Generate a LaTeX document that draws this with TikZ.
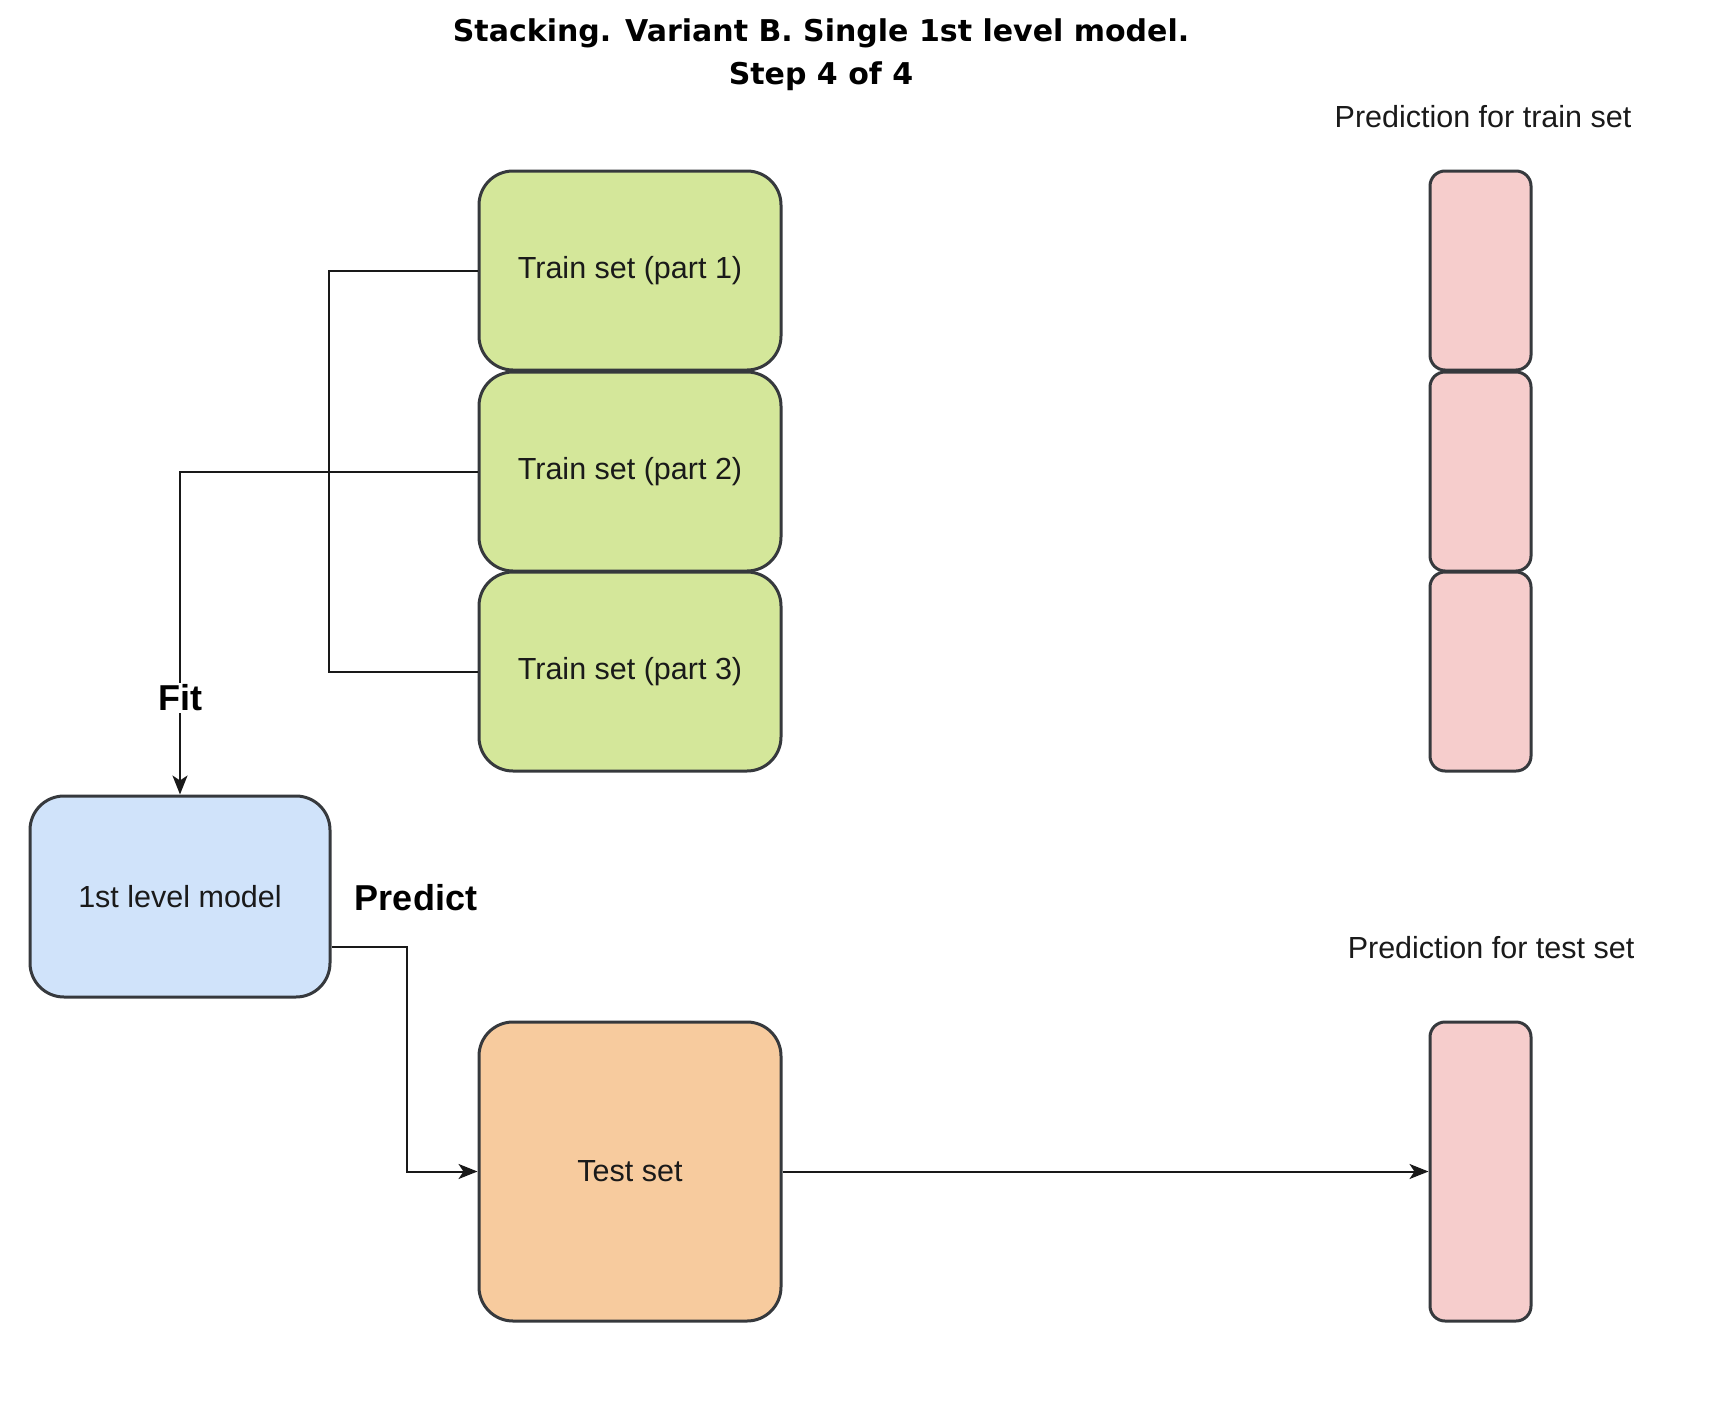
\documentclass[tikz,border=0pt]{standalone}
\usepackage{fontspec}
\setmainfont{Liberation Sans}
\newfontfamily\titlefont{DejaVu Sans}
\usetikzlibrary{arrows.meta}
\definecolor{bordergray}{HTML}{36393D}
\definecolor{greenfill}{HTML}{D4E79A}
\definecolor{pinkfill}{HTML}{F6CDCC}
\definecolor{bluefill}{HTML}{D0E3FA}
\definecolor{orangefill}{HTML}{F7CB9E}
\definecolor{txt}{HTML}{1A1A1A}
\tikzset{
  box/.style={draw=bordergray, line width=3pt, rounded corners=34pt, inner sep=0pt,
    minimum width=302pt, minimum height=199pt, text=txt,
    font=\fontsize{30.5}{36}\selectfont},
  predbox/.style={draw=bordergray, line width=3pt, rounded corners=15pt, inner sep=0pt,
    minimum width=101pt, fill=pinkfill},
  conn/.style={draw=black!90, line width=2pt},
  arr/.style={conn, -{Stealth[length=19pt, width=15pt, inset=5pt]}},
  plain/.style={text=txt, font=\fontsize{30.5}{36}\selectfont, inner sep=0pt},
  boldlab/.style={text=black, font=\fontsize{36}{40}\selectfont\bfseries, inner sep=2pt, fill=white}
}
\begin{document}
\begin{tikzpicture}[x=1pt, y=-1pt]
\useasboundingbox (0,0) rectangle (1732,1426);
\fill[white] (0,0) rectangle (1732,1426);

% title
\node[align=center, font=\titlefont\fontsize{30}{43}\selectfont\bfseries, inner sep=0pt] (title) at (821,55)
  {Stacking. Variant B. Single 1st level model.\\Step 4 of 4};

% train parts
\node[box, fill=greenfill] (t1) at (630,270.5) {Train set (part 1)};
\node[box, fill=greenfill] (t2) at (630,471.5) {Train set (part 2)};
\node[box, fill=greenfill] (t3) at (630,671.5) {Train set (part 3)};

% predictions for train set
\node[predbox, minimum height=199pt] (p1) at (1480.5,270.5) {};
\node[predbox, minimum height=199pt] (p2) at (1480.5,471.5) {};
\node[predbox, minimum height=199pt] (p3) at (1480.5,671.5) {};
\node[plain] (ptrain) at (1483,117) {Prediction for train set};

% model
\node[box, fill=bluefill, minimum width=300pt, minimum height=201pt] (model) at (180,896.5) {1st level model};

% test set
\node[box, fill=orangefill, minimum height=299pt] (test) at (630,1171.5) {Test set};
\node[predbox, minimum height=299pt] (ptest) at (1480.5,1171.5) {};
\node[plain] (ptestlab) at (1491,948) {Prediction for test set};

% connectors
\draw[conn] (t1.west) -- ++(-149,0) |- (t3.west);
\draw[arr] (t2.west) -| (model.north);
\node[boldlab] (fit) at (180,698) {Fit};
\draw[arr] ([yshift=-50.5pt]model.east) -- ++(75,0) |- (test.west);
\node[boldlab, fill=none] (predict) at (416,898) {Predict};
\draw[arr] (test.east) -- (ptest.west);
\end{tikzpicture}
\end{document}
